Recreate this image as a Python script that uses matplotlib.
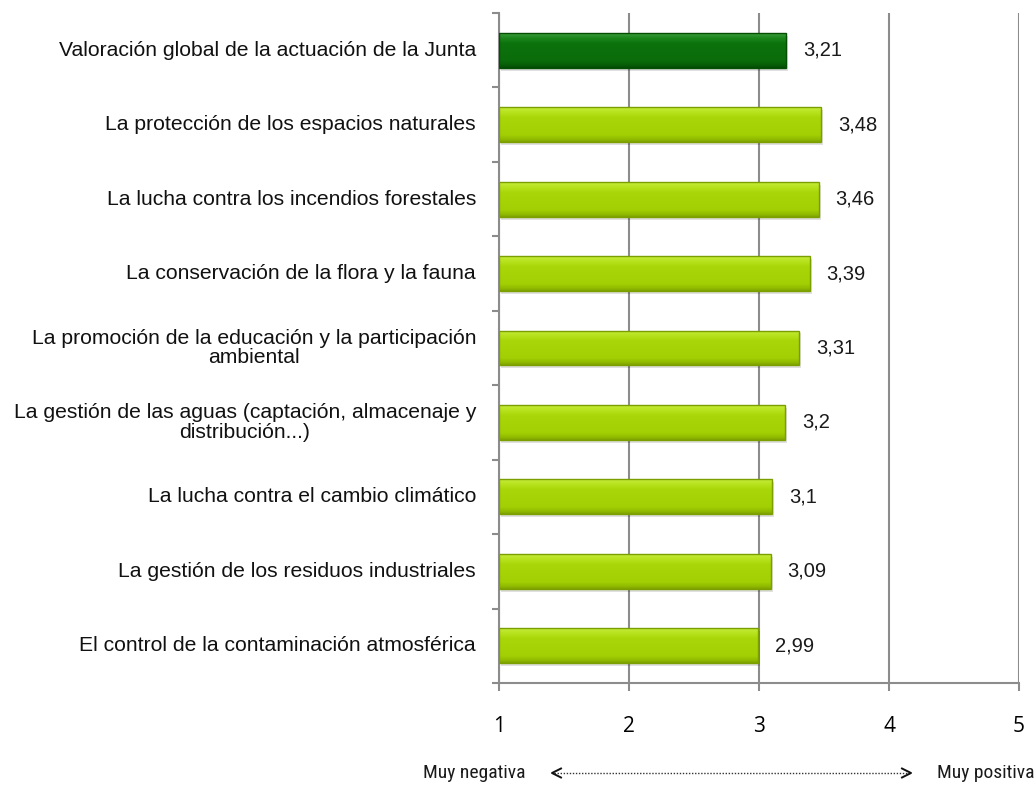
import matplotlib
matplotlib.use("Agg")
import matplotlib.pyplot as plt
import numpy as np
from matplotlib import font_manager
from matplotlib.lines import Line2D
from matplotlib.colors import LinearSegmentedColormap

categories = [
    "Valoración global de la actuación de la Junta",
    "La protección de los espacios naturales",
    "La lucha contra los incendios forestales",
    "La conservación de la flora y la fauna",
    "La promoción de la educación y la participación\nambiental",
    "La gestión de las aguas (captación, almacenaje y\ndistribución...)",
    "La lucha contra el cambio climático",
    "La gestión de los residuos industriales",
    "El control de la contaminación atmosférica",
]
values = [3.21, 3.48, 3.46, 3.39, 3.31, 3.2, 3.1, 3.09, 2.99]
value_labels = ["3,21", "3,48", "3,46", "3,39", "3,31", "3,2", "3,1", "3,09", "2,99"]
xticks = [1, 2, 3, 4, 5]
scale_left = "Muy negativa"
scale_right = "Muy positiva"

names = {f.name for f in font_manager.fontManager.ttflist}
narrow = "Liberation Sans"
for cand in ["Liberation Sans Narrow", "Roboto Condensed", "Open Sans Condensed", "DejaVu Sans Condensed"]:
    if cand in names:
        narrow = cand
        break

W, H = 1035, 785
fig = plt.figure(figsize=(W / 100, H / 100), dpi=100)
ax = fig.add_axes([499 / W, 1 - 683 / H, 520 / W, 670 / H])

n = len(categories)
y = np.arange(n)
xmin = 1

ax.set_xlim(1, 5)
ax.set_ylim(n - 0.5, -0.5)
ax.set_axisbelow(True)
ax.xaxis.grid(True, color="#8c8c8c", linewidth=1.5, zorder=0)

h = 0.47
cmap_light = LinearSegmentedColormap.from_list(
    "lime", [(0.0, "#c6ec3a"), (0.15, "#b6e21c"), (0.3, "#a8d608"),
             (0.8, "#a2d004"), (0.92, "#92bc00"), (1.0, "#7f a400".replace(" ", ""))])
cmap_dark = LinearSegmentedColormap.from_list(
    "dgreen", [(0.0, "#3a9e3a"), (0.15, "#1a841a"), (0.3, "#0c720c"),
               (0.8, "#0a6c0a"), (0.92, "#075d07"), (1.0, "#044c04")])
grad = np.linspace(0, 1, 64).reshape(-1, 1)

bars = ax.barh(y, [v - xmin for v in values], left=xmin, height=h,
               color="none", edgecolor="none", zorder=3)
for i, (b, v) in enumerate(zip(bars, values)):
    x0, y0 = b.get_x(), b.get_y()
    bw, bh = b.get_width(), b.get_height()
    # soft shadow
    ax.add_patch(plt.Rectangle((x0 + 0.015, y0 + 0.04), bw, bh, facecolor="#000000",
                               alpha=0.12, edgecolor="none", zorder=2))
    cm = cmap_dark if i == 0 else cmap_light
    im = ax.imshow(grad, cmap=cm, aspect="auto", extent=(x0, x0 + bw, y0 + bh, y0),
                   origin="upper", zorder=3, interpolation="bilinear")
    rect = plt.Rectangle((x0, y0), bw, bh, facecolor="none",
                         edgecolor="#054f05" if i == 0 else "#7c9f00",
                         linewidth=1.0, zorder=4)
    ax.add_patch(rect)
    im.set_clip_path(rect)
    ax.text(v + 0.13, y[i], value_labels[i], va="center", ha="left",
            fontsize=14.5, family="Liberation Sans", color="#1a1a1a")

ax.set_ylim(n - 0.5, -0.5)
ax.set_xlim(1, 5)
ax.set_yticks(y)
ax.set_yticklabels([])
ax.set_yticks(np.arange(-0.5, n, 1.0), minor=True)
ax.tick_params(axis="y", which="major", length=0)
ax.tick_params(axis="y", which="minor", length=5, color="#8c8c8c", width=1.5)
for i, c in enumerate(categories):
    ax.text(-0.044, y[i], c, transform=ax.get_yaxis_transform(), ha="right",
            va="center", multialignment="center", fontsize=15.2, linespacing=1.05,
            family="Liberation Sans", color="#111111")

ax.set_xticks(xticks)
ax.set_xticklabels([str(t) for t in xticks], fontsize=15, family="Open Sans")
ax.tick_params(axis="x", length=6, color="#8c8c8c", width=1.5, pad=18)

for s in ["top", "right"]:
    ax.spines[s].set_visible(False)
for s in ["left", "bottom"]:
    ax.spines[s].set_color("#8c8c8c")
    ax.spines[s].set_linewidth(1.5)

# bottom scale annotation
yy = 1 - 773 / H
fig.text(474 / W, yy, scale_left, ha="center", va="center",
         fontsize=14, family=narrow, color="#1a1a1a")
fig.text(986 / W, yy, scale_right, ha="center", va="center",
         fontsize=14, family=narrow, color="#1a1a1a")
fig.add_artist(Line2D([554 / W, 909 / W], [yy, yy], transform=fig.transFigure,
                      color="#333333", lw=1.0, linestyle=(0, (1, 1.2))))
for tip, d in [(552, 1), (911, -1)]:
    fig.add_artist(Line2D([(tip + 9 * d) / W, tip / W, (tip + 9 * d) / W],
                          [yy + 4.5 / H, yy, yy - 4.5 / H], transform=fig.transFigure,
                          color="#111111", lw=1.4))

fig.savefig("out.png", dpi=100, facecolor="white")
